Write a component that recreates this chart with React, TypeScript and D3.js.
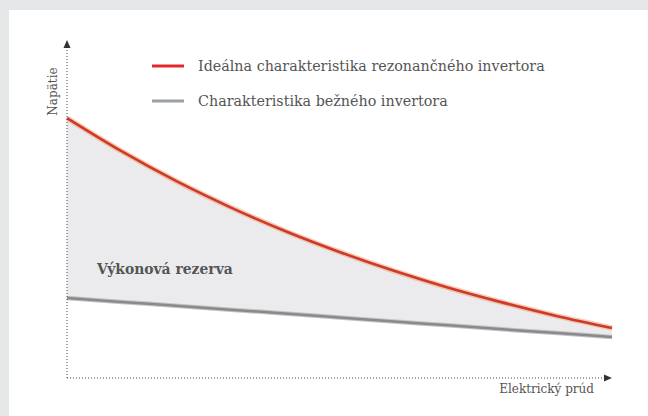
import React from "react";
import * as d3 from "d3";

// Data (current index 0..10, voltage in % of axis height)
const current = [0, 1, 2, 3, 4, 5, 6, 7, 8, 9, 10];
const idealVoltage = [76.9, 67.1, 58.3, 50.5, 43.5, 37.3, 31.7, 26.7, 22.3, 18.3, 14.8];
const normalVoltage = [23.7, 22.5, 21.4, 20.2, 19.1, 17.9, 16.7, 15.6, 14.4, 13.3, 12.1];

const legendLabels = [
  "Ideálna charakteristika rezonančného invertora",
  "Charakteristika bežného invertora",
];
const legendColors = ["#e5262b", "#9aa1a6"];
const yAxisLabel = "Napätie";
const xAxisLabel = "Elektrický prúd";
const areaLabel = "Výkonová rezerva";

const W = 648;
const H = 416;
const FONT = "'DejaVu Serif', 'Liberation Serif', serif";

export default function App() {
  const x = d3.scaleLinear().domain([0, 10]).range([67, 612]);
  const y = d3.scaleLinear().domain([0, 100]).range([378, 40]);

  const rows = current.map((c, i) => ({ c, hi: idealVoltage[i], lo: normalVoltage[i] }));

  const area = d3
    .area<{ c: number; hi: number; lo: number }>()
    .x((d) => x(d.c))
    .y0((d) => y(d.lo))
    .y1((d) => y(d.hi))
    .curve(d3.curveMonotoneX);
  const redLine = d3
    .line<{ c: number; hi: number; lo: number }>()
    .x((d) => x(d.c))
    .y((d) => y(d.hi))
    .curve(d3.curveMonotoneX);
  const grayLine = d3
    .line<{ c: number; hi: number; lo: number }>()
    .x((d) => x(d.c))
    .y((d) => y(d.lo))
    .curve(d3.curveMonotoneX);

  const x0 = x(0);
  const y0 = y(0);
  const xEnd = x(10);
  const yTop = y(100);

  return (
    <svg
      width={W}
      height={H}
      style={{ position: "absolute", left: 0, top: 0 }}
      fontFamily={FONT}
    >
      <rect x={0} y={0} width={W} height={H} fill="#e6e7e9" />
      <rect x={9} y={10} width={W - 9} height={H - 10} fill="#ffffff" />

      {/* area between curves */}
      <path d={area(rows) || ""} fill="#ebebed" />

      {/* gray line */}
      <path d={grayLine(rows) || ""} fill="none" stroke="#c4c4c6" strokeWidth={4.5} />
      <path d={grayLine(rows) || ""} fill="none" stroke="#8a8a8c" strokeWidth={2.5} />

      {/* red line */}
      <path d={redLine(rows) || ""} fill="none" stroke="#f3a27e" strokeWidth={5.5} strokeOpacity={0.55} />
      <path d={redLine(rows) || ""} fill="none" stroke="#cc3a28" strokeWidth={2.6} />

      {/* axes */}
      <line x1={x0} y1={y0} x2={x0} y2={yTop + 6} stroke="#444" strokeWidth={1} strokeDasharray="1 2" />
      <line x1={x0} y1={y0} x2={xEnd - 5} y2={y0} stroke="#444" strokeWidth={1} strokeDasharray="1 2" />
      <path d={`M${x0},${yTop} L${x0 - 3.5},${yTop + 8} L${x0 + 3.5},${yTop + 8} Z`} fill="#333" />
      <path d={`M${xEnd},${y0} L${xEnd - 8},${y0 - 3.5} L${xEnd - 8},${y0 + 3.5} Z`} fill="#333" />

      {/* axis labels */}
      <text
        transform={`translate(56.5, 91.5) rotate(-90)`}
        textAnchor="middle"
        fontSize={12}
        fill="#555"
      >
        {yAxisLabel}
      </text>
      <text x={594} y={393} textAnchor="end" fontSize={12} fill="#555">
        {xAxisLabel}
      </text>

      {/* area label */}
      <text x={97} y={274} fontSize={13.9} fontWeight="bold" fill="#555">
        {areaLabel}
      </text>

      {/* legend */}
      {legendLabels.map((t, i) => (
        <g key={t} transform={`translate(0, ${66 + i * 35})`}>
          <line x1={152} x2={184} y1={0} y2={0} stroke={legendColors[i]} strokeWidth={3} />
          <text x={198} y={4.8} fontSize={14.3} fill="#555">
            {t}
          </text>
        </g>
      ))}
    </svg>
  );
}
